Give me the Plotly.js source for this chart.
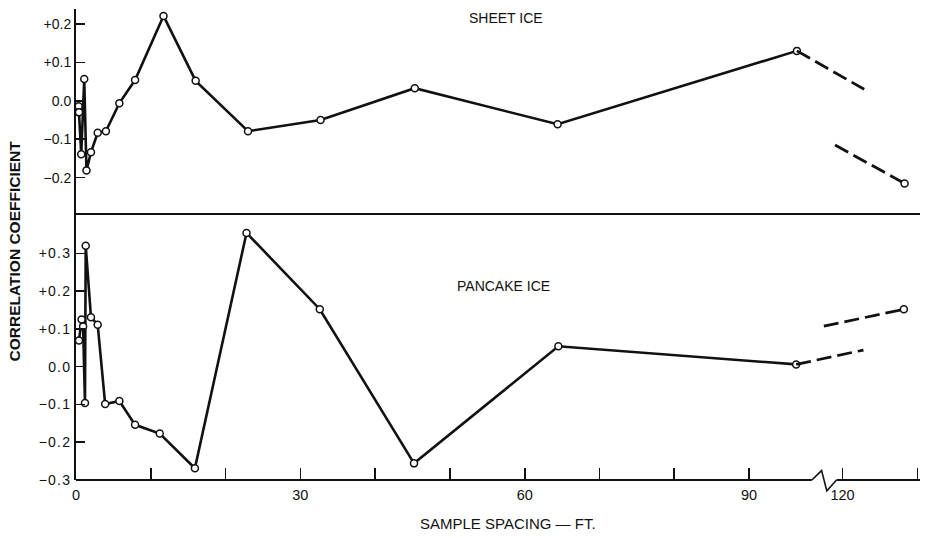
<!DOCTYPE html>
<html>
<head>
<meta charset="utf-8">
<script src="https://cdn.plot.ly/plotly-3.0.1.min.js"></script>
<style>
  html, body { margin: 0; padding: 0; background: #fff; }
  #chart { width: 926px; height: 538px; }
  #chart .ytick text { letter-spacing: 1.2px; }
</style>
</head>
<body>
<div id="chart"></div>
<script>
// Sample spacing (ft) and correlation coefficients, sheet ice
const sheetSpacing = [0.35, 0.4, 0.7, 1.1, 1.4, 2, 2.9, 4, 5.8, 7.9, 11.7, 16, 23, 32.7, 45.3, 64.4, 96.4];
const sheetCorr    = [-0.014, -0.03, -0.139, 0.057, -0.181, -0.134, -0.083, -0.079, -0.006, 0.054, 0.221, 0.052, -0.079, -0.050, 0.033, -0.061, 0.130];
const sheetFarSpacing = [128.3];
const sheetFarCorr    = [-0.215];

// Pancake ice
const pancakeSpacing = [0.4, 0.75, 0.95, 1.2, 1.3, 2, 2.9, 3.9, 5.8, 7.9, 11.2, 15.9, 22.8, 32.6, 45.2, 64.5, 96.3];
const pancakeCorr    = [0.069, 0.125, 0.106, -0.096, 0.320, 0.131, 0.111, -0.099, -0.091, -0.154, -0.177, -0.269, 0.354, 0.152, -0.256, 0.054, 0.006];
const pancakeFarSpacing = [128.2];
const pancakeFarCorr    = [0.152];

// Dashed connectors across the axis break (spacing, coefficient)
const sheetStubUpX = [96.4, 122.9],  sheetStubUpY = [0.130, 0.030];
const sheetStubLoX = [119.0, 128.3], sheetStubLoY = [-0.115, -0.215];
const pancakeStubLoX = [96.3, 122.8],  pancakeStubLoY = [0.006, 0.044];
const pancakeStubUpX = [117.5, 128.2], pancakeStubUpY = [0.107, 0.152];

// Axis ticks
const xTickValues = [0, 10, 20, 30, 40, 50, 60, 70, 80, 90, 120, 130];
const xTickLabels = ["0", "", "", "30", "", "", "60", "", "", "90", "120", ""];
const topYTicks = [-0.2, -0.1, 0, 0.1, 0.2];
const topYLabels = ["\u22120.2", "\u22120.1", "0.0", "+0.1", "+0.2"];
const botYTicks = [-0.3, -0.2, -0.1, 0, 0.1, 0.2, 0.3];
const botYLabels = ["\u22120.3", "\u22120.2", "\u22120.1", "0.0", "+0.1", "+0.2", "+0.3"];

// Broken x axis: spacings between 100 and 117.5 ft are cut out
const BREAK_AT = 100, BREAK_GAP = 17.5;
const disp = v => (v <= BREAK_AT ? v : v - BREAK_GAP);
const mapX = arr => arr.map(disp);

const FONT = "Liberation Sans, Arial, sans-serif";
const INK = "#111";
const lineStyle = { color: INK, width: 2.6 };
const markerStyle = { symbol: "circle", size: 7, color: "#fff", line: { color: INK, width: 1.5 } };
const dashStyle = { color: INK, width: 2.8, dash: "15px,6px" };

const traces = [
  { x: mapX(sheetSpacing), y: sheetCorr, xaxis: "x2", yaxis: "y2", mode: "lines+markers", line: lineStyle, marker: markerStyle },
  { x: mapX(sheetStubUpX), y: sheetStubUpY, xaxis: "x2", yaxis: "y2", mode: "lines", line: dashStyle },
  { x: mapX(sheetStubLoX), y: sheetStubLoY, xaxis: "x2", yaxis: "y2", mode: "lines", line: dashStyle },
  { x: mapX(sheetFarSpacing), y: sheetFarCorr, xaxis: "x2", yaxis: "y2", mode: "markers", marker: markerStyle },
  { x: mapX(pancakeSpacing), y: pancakeCorr, xaxis: "x", yaxis: "y", mode: "lines+markers", line: lineStyle, marker: markerStyle },
  { x: mapX(pancakeStubLoX), y: pancakeStubLoY, xaxis: "x", yaxis: "y", mode: "lines", line: dashStyle },
  { x: mapX(pancakeStubUpX), y: pancakeStubUpY, xaxis: "x", yaxis: "y", mode: "lines", line: dashStyle },
  { x: mapX(pancakeFarSpacing), y: pancakeFarCorr, xaxis: "x", yaxis: "y", mode: "markers", marker: markerStyle }
];

const X_MAX = 112.86;
const SPLIT = 0.566;
const yTickFont = { family: FONT, size: 14, color: INK };
const xTickFont = { family: FONT, size: 14.5, color: INK };

// Bottom axis line drawn by hand so the break zigzag can sit in it
const bx0 = 98.4, bx1 = 99.7, bx2 = 100.4, bx3 = 101.7;
const up = 0.02, dn = -0.023;

const label = (text, x, y, size, extra) => Object.assign({
  text, xref: "paper", yref: "paper", x, y, xanchor: "center", yanchor: "middle",
  showarrow: false, font: { family: FONT, size, color: INK }
}, extra || {});

const layout = {
  width: 926, height: 538,
  margin: { l: 76, r: 6, t: 9, b: 58 },
  paper_bgcolor: "#fff", plot_bgcolor: "#fff",
  showlegend: false,
  font: { family: FONT, color: INK },
  xaxis: {
    domain: [0, 1], anchor: "y", range: [0, X_MAX],
    showgrid: false, zeroline: false, showline: false,
    tickmode: "array", tickvals: xTickValues.map(disp), ticktext: xTickLabels,
    ticks: "inside", ticklen: 12, tickwidth: 1.6, tickcolor: INK,
    tickfont: xTickFont, ticklabelstandoff: 4
  },
  xaxis2: {
    domain: [0, 1], anchor: "y2", matches: "x", range: [0, X_MAX],
    showgrid: false, zeroline: false, showline: true, linewidth: 2, linecolor: INK,
    showticklabels: false, ticks: ""
  },
  yaxis: {
    domain: [0, SPLIT], anchor: "x", range: [-0.3, 0.4056],
    showgrid: false, zeroline: false, showline: true, linewidth: 2, linecolor: INK,
    tickmode: "array", tickvals: botYTicks, ticktext: botYLabels,
    ticks: "inside", ticklen: 9, tickwidth: 1.6, tickcolor: INK, tickfont: yTickFont
  },
  yaxis2: {
    domain: [SPLIT, 1], anchor: "x2", range: [-0.293, 0.239],
    showgrid: false, zeroline: false, showline: true, linewidth: 2, linecolor: INK,
    tickmode: "array", tickvals: topYTicks, ticktext: topYLabels,
    ticks: "inside", ticklen: 9, tickwidth: 1.6, tickcolor: INK, tickfont: yTickFont
  },
  shapes: [
    { type: "line", xref: "x", yref: "paper", x0: 0, x1: bx0, y0: 0, y1: 0, line: { color: INK, width: 2 } },
    { type: "path", xref: "x", yref: "paper",
      path: `M ${bx0} 0 L ${bx1} ${up} L ${bx2} ${dn} L ${bx3} 0`, line: { color: INK, width: 1.6 } },
    { type: "line", xref: "x", yref: "paper", x0: bx3, x1: X_MAX, y0: 0, y1: 0, line: { color: INK, width: 2 } }
  ],
  annotations: [
    label("SHEET ICE", 0.509, 0.981, 14),
    label("PANCAKE ICE", 0.507, 0.411, 14),
    label("CORRELATION COEFFICIENT", -0.0725, 0.487, 15.5, { textangle: -90,
      font: { family: FONT, size: 15.5, color: INK, weight: "bold" } }),
    label("SAMPLE SPACING \u2014 FT.", 0.512, -0.0913, 15)
  ]
};

Plotly.newPlot("chart", traces, layout, { staticPlot: true, displayModeBar: false });
</script>
</body>
</html>
